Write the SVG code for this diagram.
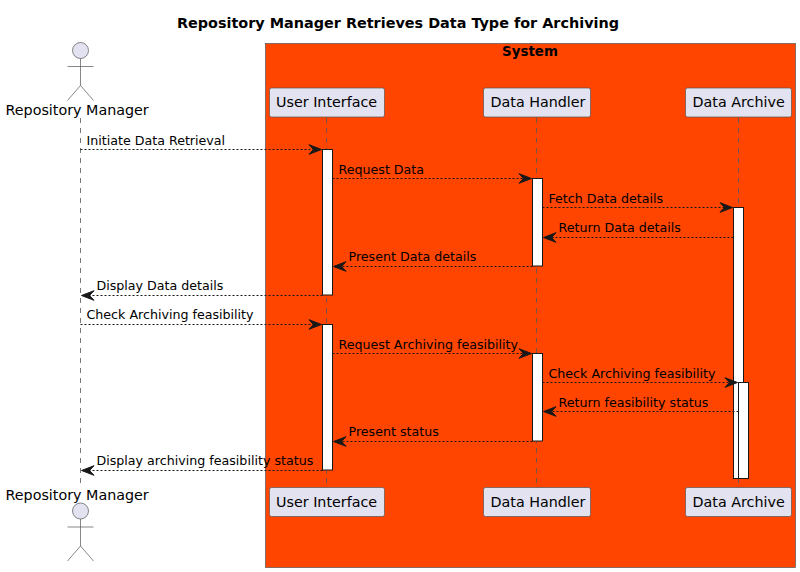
<svg xmlns="http://www.w3.org/2000/svg" width="800" height="572" viewBox="0 0 800 572">
<style>
text{font-family:"DejaVu Sans",sans-serif;fill:#000}
.title{font-size:14.4px;font-weight:bold}
.name{font-size:14.3px}
.msg{font-size:12.65px}
.life{stroke:#555;stroke-width:.8;stroke-dasharray:5 5;fill:none}
.actor{fill:#E2E2F0;stroke:#555;stroke-width:.7}
.limb{fill:none;stroke:#555;stroke-width:.7}
.part{fill:#E2E2F0;stroke:#555;stroke-width:.7}
.act{fill:#fff;stroke:#181818;stroke-width:1}
.m{stroke:#181818;stroke-width:1;stroke-dasharray:2 2;fill:none}
.h{fill:#181818;stroke:#181818;stroke-width:1}
</style>
<defs>
<path id="ar" class="h" d="M0 0L-12.500-4.800L-8 0L-12.500 4.800Z"/>
<path id="al" class="h" d="M0 0L12.500-4.800L8 0L12.500 4.800Z"/>
<g id="stick"><circle class="actor" cx="0" cy="8" r="8"/><path class="limb" d="M0 16V43M-13 24H13M0 43L-13 58M0 43L13 58"/></g>
</defs>
<rect width="800" height="572" fill="#fff"/>
<text class="title" x="398" y="28" text-anchor="middle">Repository Manager Retrieves Data Type for Archiving</text>
<g id="system"><rect x="265.500" y="43.500" width="530" height="524" fill="#FF4500" stroke="#555" stroke-width=".7"/><text x="530" y="56" text-anchor="middle" style="font-size:13.400px;font-weight:bold">System</text></g>
<g id="lifelines">
<path class="life" d="M80.500 118V483"/><path class="life" d="M326.500 118V483"/><path class="life" d="M536.500 118V483"/><path class="life" d="M738.500 118V483"/>
</g>
<g id="activations">
<rect class="act" x="322.500" y="149.500" width="10" height="145.500"/>
<rect class="act" x="532.500" y="178.500" width="10" height="87.500"/>
<rect class="act" x="322.500" y="324.500" width="10" height="145.500"/>
<rect class="act" x="532.500" y="353.500" width="10" height="87.500"/>
<rect class="act" x="733.500" y="207.500" width="10" height="271"/>
<rect class="act" x="738.500" y="382.500" width="10" height="96"/>
</g>
<g id="connectors">
<path class="m" d="M80.500 149.500H320"/><use href="#ar" x="321.500" y="149.500"/>
<path class="m" d="M332.500 178.500H530"/><use href="#ar" x="531.500" y="178.500"/>
<path class="m" d="M542.500 207.500H731"/><use href="#ar" x="732.500" y="207.500"/>
<path class="m" d="M733.500 237.500H545"/><use href="#al" x="543.500" y="237.500"/>
<path class="m" d="M532.500 266.500H335"/><use href="#al" x="333.500" y="266.500"/>
<path class="m" d="M322.500 295.500H83"/><use href="#al" x="81.500" y="295.500"/>
<path class="m" d="M80.500 324.500H320"/><use href="#ar" x="321.500" y="324.500"/>
<path class="m" d="M332.500 353.500H530"/><use href="#ar" x="531.500" y="353.500"/>
<path class="m" d="M542.500 382.500H736"/><use href="#ar" x="737.500" y="382.500"/>
<path class="m" d="M738.500 411.500H545"/><use href="#al" x="543.500" y="411.500"/>
<path class="m" d="M532.500 441.500H335"/><use href="#al" x="333.500" y="441.500"/>
<path class="m" d="M322.500 470.500H83"/><use href="#al" x="81.500" y="470.500"/>
<g id="labels">
<text class="msg" x="86.500" y="145">Initiate Data Retrieval</text>
<text class="msg" x="338.500" y="174">Request Data</text>
<text class="msg" x="548.500" y="203">Fetch Data details</text>
<text class="msg" x="558.500" y="232">Return Data details</text>
<text class="msg" x="348.500" y="261">Present Data details</text>
<text class="msg" x="96.500" y="290">Display Data details</text>
<text class="msg" x="86.500" y="319">Check Archiving feasibility</text>
<text class="msg" x="338.500" y="349">Request Archiving feasibility</text>
<text class="msg" x="548.500" y="378">Check Archiving feasibility</text>
<text class="msg" x="558.500" y="407">Return feasibility status</text>
<text class="msg" x="348.500" y="436">Present status</text>
<text class="msg" x="96.500" y="465">Display archiving feasibility status</text>
</g>
</g>
<g id="actor-top"><use href="#stick" x="80.500" y="42.500"/><text class="name" x="5.500" y="115">Repository Manager</text></g>
<g id="actor-bottom"><use href="#stick" x="80.500" y="503"/><text class="name" x="5.500" y="500">Repository Manager</text></g>
<g id="ui-top"><rect class="part" x="269.500" y="88" width="115" height="29" rx="2"/><text class="name" x="276" y="107">User Interface</text></g>
<g id="dh-top"><rect class="part" x="483.500" y="88" width="107" height="29" rx="2"/><text class="name" x="490.500" y="107">Data Handler</text></g>
<g id="da-top"><rect class="part" x="685.500" y="88" width="106" height="29" rx="2"/><text class="name" x="692.500" y="107">Data Archive</text></g>
<g id="ui-bottom"><rect class="part" x="269.500" y="487.500" width="115" height="29" rx="2"/><text class="name" x="276" y="507">User Interface</text></g>
<g id="dh-bottom"><rect class="part" x="483.500" y="487.500" width="107" height="29" rx="2"/><text class="name" x="490.500" y="507">Data Handler</text></g>
<g id="da-bottom"><rect class="part" x="685.500" y="487.500" width="106" height="29" rx="2"/><text class="name" x="692.500" y="507">Data Archive</text></g>
</svg>
